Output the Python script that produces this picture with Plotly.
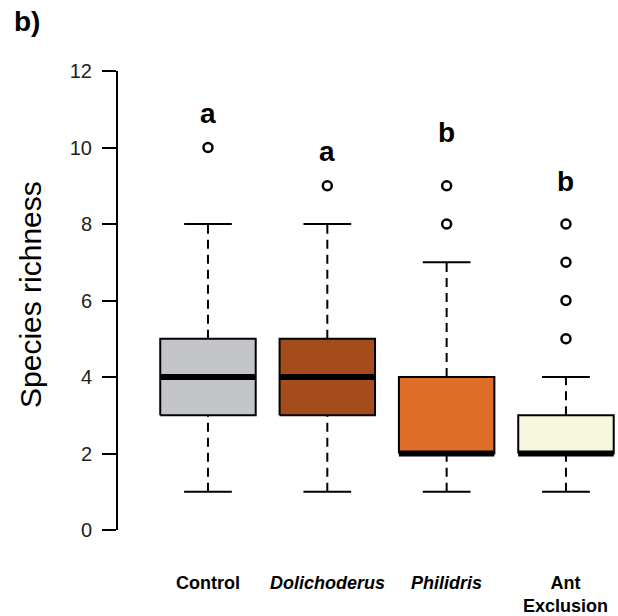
import plotly.graph_objects as go

# ---- data ----
categories = ["Control", "<i>Dolichoderus</i>", "<i>Philidris</i>", "Ant<br>Exclusion"]
positions = [1, 2, 3, 4]
lower_whisker = [1, 1, 1, 1]
q1 = [3, 3, 2, 2]
median = [4, 4, 2, 2]
q3 = [5, 5, 4, 3]
upper_whisker = [8, 8, 7, 4]
outliers = [[10], [9], [8, 9], [5, 6, 7, 8]]
letters = ["a", "a", "b", "b"]
letter_y = [10.9, 9.9, 10.4, 9.1]
fill_colors = ["#c3c5c8", "#a54c1c", "#de6d28", "#f6f7dc"]
y_ticks = [0, 2, 4, 6, 8, 10, 12]

FONT = "Liberation Sans, Arial, sans-serif"
HW = 0.4      # half box width
CAP = 0.2     # half staple width

fig = go.Figure()

for i, c in enumerate(positions):
    # box
    fig.add_trace(go.Scatter(
        x=[c - HW, c + HW, c + HW, c - HW, c - HW],
        y=[q1[i], q1[i], q3[i], q3[i], q1[i]],
        mode="lines", fill="toself", fillcolor=fill_colors[i],
        line=dict(color="black", width=2), hoverinfo="skip", showlegend=False))
    # whiskers (dashed)
    fig.add_trace(go.Scatter(
        x=[c, c, None, c, c],
        y=[q3[i], upper_whisker[i], None, lower_whisker[i], q1[i]],
        mode="lines", line=dict(color="black", width=2, dash="9px,6px"),
        hoverinfo="skip", showlegend=False))
    # staples
    fig.add_trace(go.Scatter(
        x=[c - CAP, c + CAP, None, c - CAP, c + CAP],
        y=[upper_whisker[i], upper_whisker[i], None, lower_whisker[i], lower_whisker[i]],
        mode="lines", line=dict(color="black", width=2),
        hoverinfo="skip", showlegend=False))
    # median
    fig.add_trace(go.Scatter(
        x=[c - HW, c + HW], y=[median[i], median[i]],
        mode="lines", line=dict(color="black", width=6),
        hoverinfo="skip", showlegend=False))
    # outliers
    fig.add_trace(go.Scatter(
        x=[c] * len(outliers[i]), y=outliers[i], mode="markers",
        marker=dict(symbol="circle-open", size=9, color="black", line=dict(width=2.5)),
        hoverinfo="skip", showlegend=False))
    # significance letters
    fig.add_annotation(x=c, y=letter_y[i], text="<b>%s</b>" % letters[i],
                       showarrow=False, xanchor="center", yanchor="middle",
                       font=dict(family=FONT, size=28, color="black"))
    # category labels
    fig.add_annotation(x=c, xref="x", y=-0.09, yref="paper",
                       text="<b>%s</b>" % categories[i], showarrow=False,
                       xanchor="center", yanchor="top",
                       font=dict(family=FONT, size=18, color="black"))

fig.add_annotation(x=-0.174, xref="paper", y=0.512, yref="paper",
                   text="Species richness", textangle=-90, showarrow=False,
                   xanchor="center", yanchor="middle",
                   font=dict(family=FONT, size=30, color="black"))
fig.add_annotation(x=-0.212, xref="paper", y=1.145, yref="paper",
                   text="<b>b)</b>", showarrow=False, xanchor="left", yanchor="top",
                   font=dict(family=FONT, size=28, color="black"))

fig.update_layout(
    width=618, height=616,
    margin=dict(l=118, r=0, t=71, b=86),
    paper_bgcolor="white", plot_bgcolor="white",
    xaxis=dict(range=[0.246, 4.436], showline=False, showgrid=False,
               zeroline=False, showticklabels=False, ticks=""),
    yaxis=dict(range=[0, 12], tickvals=y_ticks, ticktext=[str(v) for v in y_ticks],
               showline=True, linecolor="black", linewidth=2,
               ticks="outside", ticklen=14, tickwidth=2, tickcolor="black",
               ticklabelstandoff=6,
               showgrid=False, zeroline=False,
               tickfont=dict(family=FONT, size=20, color="#222")),
)

fig.write_html("out.html")
